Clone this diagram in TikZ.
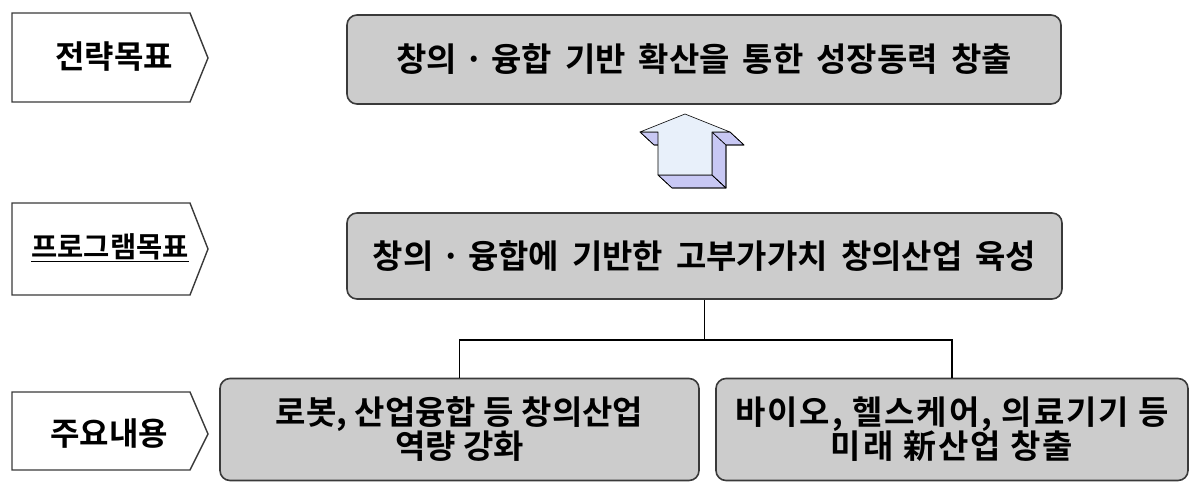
\documentclass[tikz,border=0pt]{standalone}
\usepackage{fontspec}
\setmainfont{Noto Sans CJK KR}[BoldFont={* Bold}]
\newfontfamily\kr{Noto Sans CJK KR Bold}
\newfontfamily\krwide{Noto Sans CJK KR Bold}[LetterSpace=6]
\definecolor{boxfill}{HTML}{CCCCCC}
\definecolor{boxline}{HTML}{3A3A3A}
\definecolor{arrowfront}{HTML}{E8F0FA}
\definecolor{arrowside}{HTML}{C8C8F4}
\begin{document}
\begin{tikzpicture}[x=1pt,y=-1pt,
  gbox/.style={draw=boxline,line width=1.6pt,fill=boxfill,rounded corners=10pt,
    inner sep=0pt,align=center,font=\kr\fontsize{33}{36}\selectfont},
  tag/.style={draw=boxline,line width=1.4pt,fill=white},
  taglabel/.style={inner sep=0pt,font=\kr\fontsize{32}{34}\selectfont},
  conn/.style={draw=black,line width=1.2pt},
  aside/.style={fill=arrowside,draw=black,line width=0.6pt,line join=round},
  afront/.style={fill=arrowfront,draw=black,line width=0.6pt,line join=round}]
\useasboundingbox (0,0) rectangle (1191,482);
% left tags
\draw[tag] (12,13) -- (190,13) -- (208,58) -- (190,102) -- (12,102) -- cycle;
\node[taglabel] (t1) at (114,57) {전략목표};
\draw[tag] (12,203) -- (190,203) -- (208,249) -- (190,295) -- (12,295) -- cycle;
\node[taglabel,font=\kr\fontsize{28.5}{30}\selectfont] (t2) at (110,248) {\underline{프로그램목표}};
\draw[tag] (12,392) -- (190,392) -- (208,434) -- (190,470) -- (12,470) -- cycle;
\node[taglabel] (t3) at (109,434) {주요내용};
% boxes
\node[gbox,minimum width=714pt,minimum height=89pt] (top) at (704,59.5)
  {창의 · 융합 \,기반 \,확산을 \,통한 \,성장동력 \,창출};
\node[gbox,minimum width=715pt,minimum height=86pt] (mid) at (704.5,256)
  {창의 · 융합에 \,기반한 \,고부가가치 \,창의산업 \,육성};
\node[gbox,minimum width=479pt,minimum height=102pt] (bl) at (459.5,429.5)
  {로봇, 산업융합 등 창의산업\\[-2pt]역량 강화};
\node[gbox,minimum width=472pt,minimum height=102pt,font=\krwide\fontsize{33}{36}\selectfont] (br) at (952,429.5)
  {바이오, 헬스케어, 의료기기 등\\[-2pt]미래 新산업 창출};
% connectors
\coordinate (bar) at (0,340);
\draw[conn] (mid.south) -- (mid.south |- bar);
\draw[conn] (bl.north) -- (bl.north |- bar) -- (br.north |- bar) -- (br.north);
% 3D up arrow
\fill[aside] (658,175) -- (712,175) -- (726,188) -- (672,188) -- cycle;
\fill[aside] (712,132) -- (712,175) -- (726,188) -- (726,145) -- cycle;
\fill[aside] (712,132) -- (730,132) -- (744,145) -- (726,145) -- cycle;
\fill[aside] (640,132) -- (658,132) -- (672,145) -- (654,145) -- cycle;
\draw[aside,fill=none] (658,175) -- (672,188) -- (726,188) -- (726,145) -- (744,145) -- (730,132);
\draw[aside,fill=none] (640,132) -- (654,145) -- (658,145);
\filldraw[afront] (685,114) -- (730,132) -- (712,132) -- (712,175) -- (658,175) -- (658,132) -- (640,132) -- cycle;
\draw[aside,fill=none] (712,175) -- (726,188);
\end{tikzpicture}
\end{document}
